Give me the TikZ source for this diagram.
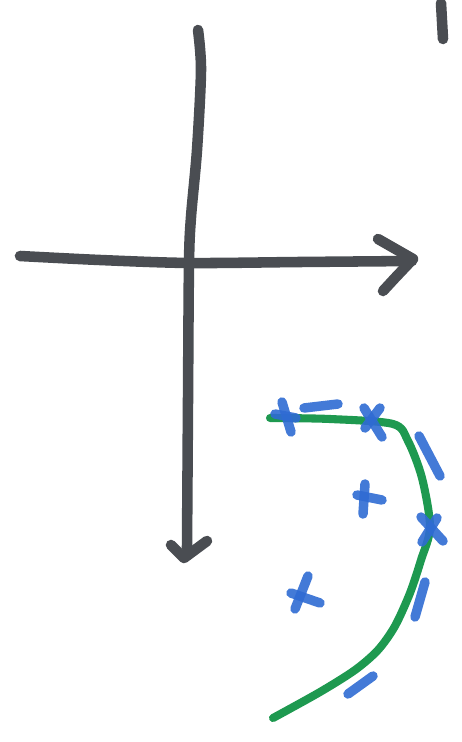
\documentclass[tikz,border=0pt]{standalone}
\usepackage{tikz}
\usepackage{xcolor}
\definecolor{penGray}{HTML}{4A4D52}
\definecolor{penGreen}{HTML}{1E9950}
\definecolor{penBlue}{HTML}{2F6BD3}

\begin{document}
\begin{tikzpicture}[x=0.02cm, y=-0.02cm,
    axis/.style={draw=penGray, line width=6pt, line cap=round, line join=round},
    boundary/.style={draw=penGreen, line width=4.6pt, line cap=round, line join=round},
    sample/.style={draw=penBlue, line width=5.4pt, line cap=round, opacity=0.9}]
    \useasboundingbox (0,0) rectangle (461,742);

    % axes
    \coordinate (yTop) at (198,30);
    \coordinate (yEnd) at (187,548);
    \coordinate (xStart) at (20,256);
    \coordinate (xEnd) at (412,261);
    \draw[axis] plot[smooth] coordinates {(yTop) (201,70) (197,150) (191,217) (189,263) (188,400) (yEnd)};
    \draw[axis] (171,545) -- (184,558) -- (207,541);
    \draw[axis] plot[smooth] coordinates {(xStart) (100,260) (190,263) (300,262) (xEnd)};
    \draw[axis] (378,239) -- (413,259) -- (395,278) -- (383,291);
    \draw[axis] (441,3) -- (443,39);

    % decision boundary
    \draw[boundary] plot[smooth, tension=0.5] coordinates {(270,418) (330,419) (393,424) (408,441) (422,478) (430,527) (421,560) (410,593) (395,626) (378,650) (355,670) (320,692) (273,718)};

    % positive samples
    \draw[sample] (282,402) -- (291,432);
    \draw[sample] (275,414) -- (296,418);
    \draw[sample] (364,408) -- (382,437);
    \draw[sample] (380,408) -- (365,428);
    \draw[sample] (365,484) -- (363,514);
    \draw[sample] (357,495) -- (382,500);
    \draw[sample] (421,517) -- (443,541);
    \draw[sample] (437,518) -- (422,542);
    \draw[sample] (308,576) -- (295,609);
    \draw[sample] (291,593) -- (320,603);

    % negative samples
    \draw[sample] (304,408) -- (338,404);
    \draw[sample] (419,436) -- (440,476);
    \draw[sample] (425,582) -- (415,617);
    \draw[sample] (373,676) -- (348,694);
\end{tikzpicture}
\end{document}
